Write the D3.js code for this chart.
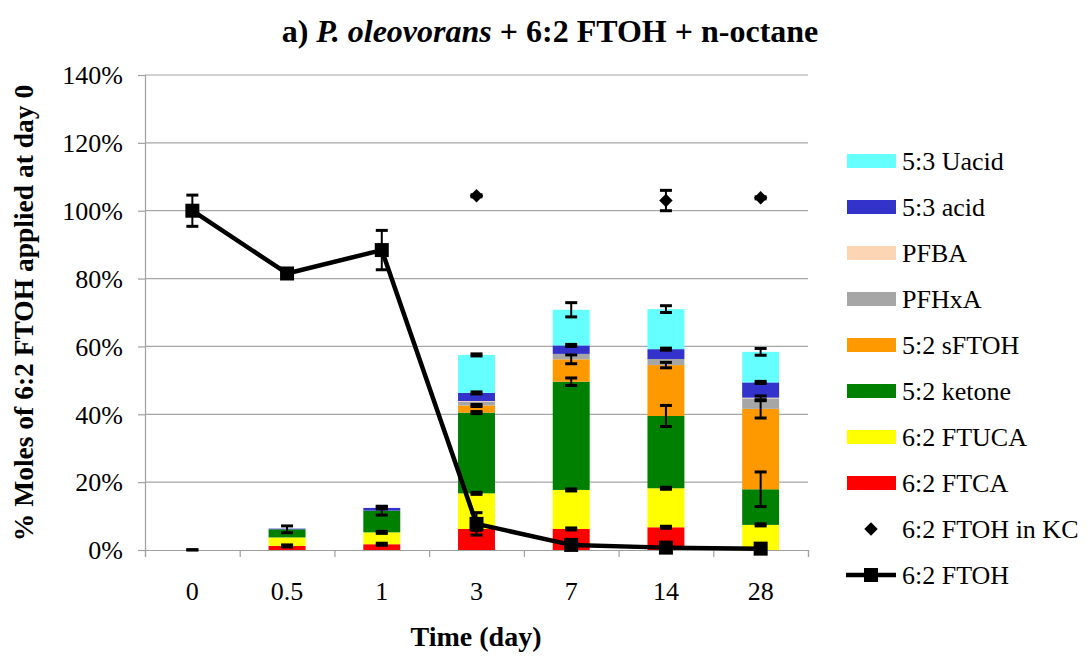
<!DOCTYPE html>
<html>
<head>
<meta charset="utf-8">
<script src="https://cdn.jsdelivr.net/npm/d3@7"></script>
<style>
  @font-face { font-family: "ChartSerif"; font-weight: 400; font-style: normal;
    src: local("Liberation Serif"), local("LiberationSerif"), local("LiberationSerif-Regular"); }
  @font-face { font-family: "ChartSerif"; font-weight: 700; font-style: normal;
    src: local("Liberation Serif Bold"), local("LiberationSerif-Bold"); }
  @font-face { font-family: "ChartSerif"; font-weight: 700; font-style: italic;
    src: local("Liberation Serif Bold Italic"), local("LiberationSerif-BoldItalic"); }
  html, body { margin: 0; padding: 0; background: #fff; }
</style>
</head>
<body>
<svg id="chart" width="1091" height="656"></svg>
<script>
// Sampling days (category axis)
const days = ["0", "0.5", "1", "3", "7", "14", "28"];

// Metabolites, % of 6:2 FTOH applied at day 0 (stacked bottom to top)
const ftca    = [0, 1.2, 1.7, 6.2, 6.2, 6.7, 0];
const ftuca   = [0, 2.5, 3.5, 10.5, 11.5, 11.5, 7.4];
const ketone  = [0, 2.4, 6.4, 23.8, 31.9, 21.3, 10.5];
const sftoh   = [0, 0, 0, 2.1, 6.6, 15.0, 23.7];
const pfhxa   = [0, 0, 0, 1.1, 1.6, 1.8, 3.1];
const pfba    = [0, 0, 0, 0.2, 0, 0, 0.2];
const acid53  = [0, 0.2, 0.8, 2.4, 2.5, 2.9, 4.5];
const uacid53 = [0, 0, 0, 11.2, 10.5, 11.8, 9.0];

// Standard deviations for each metabolite
const ftcaErr    = [0.1, 0.3, 0.3, 0.4, 0.3, 0.3, 0];
const ftucaErr   = [0, 0, 0.3, 0.3, 0.3, 0.3, 0.3];
const ketoneErr  = [0, 1.0, 1.3, 0.3, 1.1, 3.1, 5.1];
const sftohErr   = [0, 0, 0, 0.3, 1.3, 0.8, 2.7];
const pfhxaErr   = [0, 0, 0, 0, 0, 0, 0.7];
const pfbaErr    = [0, 0, 0, 0, 0, 0, 0];
const acid53Err  = [0, 0, 0.3, 0.3, 0.3, 0.3, 0.3];
const uacid53Err = [0, 0, 0, 0.3, 2.1, 1.0, 1.0];

// Parent compound
const ftoh    = [100, 81.5, 88.4, 7.7, 1.5, 0.7, 0.4];
const ftohErr = [4.6, 0.5, 5.8, 3.3, 0.4, 0.3, 0.3];
const ftohKC    = [null, null, null, 104.4, null, 103.0, 103.8];
const ftohKCErr = [0, 0, 0, 0.3, 0, 3.0, 0.3];

const yTicks = [0, 20, 40, 60, 80, 100, 120, 140];

const series = [
  { name: "6:2 FTCA",  color: "#FF0000", values: ftca,    err: ftcaErr },
  { name: "6:2 FTUCA", color: "#FFFF00", values: ftuca,   err: ftucaErr },
  { name: "5:2 ketone", color: "#008000", values: ketone, err: ketoneErr },
  { name: "5:2 sFTOH", color: "#FF9900", values: sftoh,   err: sftohErr },
  { name: "PFHxA",     color: "#A6A6A6", values: pfhxa,   err: pfhxaErr },
  { name: "PFBA",      color: "#FCD5B5", values: pfba,    err: pfbaErr },
  { name: "5:3 acid",  color: "#3333CC", values: acid53,  err: acid53Err },
  { name: "5:3 Uacid", color: "#66FFFF", values: uacid53, err: uacid53Err }
];

const FONT = "'Liberation Serif', ChartSerif, Tinos, 'Times New Roman', serif";
const svg = d3.select("#chart");
const plotLeft = 145, plotRight = 808, plotTop = 75, plotBottom = 550;

const x = d3.scaleBand().domain(days).range([plotLeft, plotRight]).paddingInner(0.61).paddingOuter(0.305);
const xc = d => x(d) + x.bandwidth() / 2;
const y = d3.scaleLinear().domain([0, 140]).range([plotBottom, plotTop]);

// Shared text styling
function serif(sel, size, weight) {
  return sel.attr("font-family", FONT)
    .attr("style", `font-family: ${FONT} !important; font-size: ${size}px; font-weight: ${weight || "normal"};`)
    .attr("fill", "#000");
}

// Title
const title = serif(svg.append("text"), 32, "bold")
  .attr("x", 550).attr("y", 42).attr("text-anchor", "middle");
title.append("tspan").text("a) ");
title.append("tspan").attr("font-style", "italic").style("font-style", "italic").text("P. oleovorans");
title.append("tspan").text(" + 6:2 FTOH + n-octane");

// Horizontal gridlines
svg.append("g").selectAll("line").data(yTicks.filter(t => t > 0)).join("line")
  .attr("x1", plotLeft).attr("x2", plotRight)
  .attr("y1", d => y(d)).attr("y2", d => y(d))
  .attr("stroke", "#A6A6A6").attr("stroke-width", 1.2);

// Y axis
const yAxis = svg.append("g").attr("transform", `translate(${plotLeft},0)`)
  .call(d3.axisLeft(y).tickValues(yTicks).tickSize(7).tickPadding(15).tickFormat(d => d + "%"))
  .attr("font-family", FONT).attr("font-size", 26);
yAxis.selectAll("path, line").attr("stroke", "#A0A0A0").attr("stroke-width", 1.2);
serif(yAxis.selectAll("text"), 26).attr("dy", "0.34em");

// Stacked bars
const stackRows = days.map((d, i) => {
  const row = { day: d };
  series.forEach(s => row[s.name] = s.values[i]);
  return row;
});
const stacked = d3.stack().keys(series.map(s => s.name))(stackRows);

const barG = svg.append("g");
stacked.forEach((layer, k) => {
  barG.append("g").selectAll("rect").data(layer).join("rect")
    .attr("x", d => x(d.data.day))
    .attr("width", x.bandwidth())
    .attr("y", d => y(d[1]))
    .attr("height", d => Math.max(0, y(d[0]) - y(d[1])))
    .attr("fill", series[k].color);
});

// X axis line and category separators
const sep = d3.scaleLinear().domain([0, days.length]).range([plotLeft, plotRight]);
const xAxis = svg.append("g").attr("transform", `translate(0,${plotBottom})`)
  .call(d3.axisBottom(sep).tickValues(d3.range(days.length + 1)).tickSize(7).tickFormat(""));
xAxis.selectAll("path, line").attr("stroke", "#A0A0A0").attr("stroke-width", 1.2);

// Category labels
serif(svg.append("g").selectAll("text").data(days).join("text"), 26)
  .attr("x", d => xc(d)).attr("y", 600).attr("text-anchor", "middle")
  .text(d => d);

// Error bar helper
function errorBar(g, cx, v, e, capW) {
  if (e <= 0) return;
  const y1 = y(v + e), y2 = y(Math.max(0, v - e));
  g.append("line").attr("x1", cx).attr("x2", cx).attr("y1", y1).attr("y2", y2)
    .attr("stroke", "#000").attr("stroke-width", 2);
  [y1, y2].forEach(yy => g.append("line")
    .attr("x1", cx - capW / 2).attr("x2", cx + capW / 2).attr("y1", yy).attr("y2", yy)
    .attr("stroke", "#000").attr("stroke-width", 3));
}

// Error bars on stacked segments (drawn at each segment's cumulative top)
const errG = svg.append("g");
stacked.forEach((layer, k) => {
  layer.forEach((d, i) => errorBar(errG, xc(days[i]), d[1], series[k].err[i], 12));
});

// 6:2 FTOH in killed control
const kcG = svg.append("g");
days.forEach((d, i) => {
  if (ftohKC[i] == null) return;
  errorBar(kcG, xc(d), ftohKC[i], ftohKCErr[i], 12);
  kcG.append("path").attr("d", d3.symbol().type(d3.symbolSquare).size(90)())
    .attr("transform", `translate(${xc(d)},${y(ftohKC[i])}) rotate(45)`).attr("fill", "#000");
});

// 6:2 FTOH line with markers
const lineG = svg.append("g");
lineG.append("path").datum(ftoh)
  .attr("d", d3.line().x((v, i) => xc(days[i])).y(v => y(v)))
  .attr("fill", "none").attr("stroke", "#000").attr("stroke-width", 4.5).attr("stroke-linejoin", "round");
ftoh.forEach((v, i) => errorBar(lineG, xc(days[i]), v, ftohErr[i], 12));
lineG.selectAll("rect").data(ftoh).join("rect")
  .attr("x", (v, i) => xc(days[i]) - 7).attr("y", v => y(v) - 7)
  .attr("width", 14).attr("height", 14).attr("fill", "#000");

// Axis titles
serif(svg.append("text"), 28, "bold")
  .attr("x", 476).attr("y", 646).attr("text-anchor", "middle")
  .text("Time (day)");
serif(svg.append("text"), 27.5, "bold")
  .attr("transform", "translate(33,313) rotate(-90)").attr("text-anchor", "middle")
  .text("% Moles of 6:2 FTOH applied at day 0");

// Legend
const legendItems = series.slice().reverse().map(s => ({ name: s.name, color: s.color, kind: "bar" }))
  .concat([{ name: "6:2 FTOH in KC", kind: "diamond" }, { name: "6:2 FTOH", kind: "line" }]);
const legend = svg.append("g");
legendItems.forEach((item, i) => {
  const cy = 161 + i * 46;
  if (item.kind === "bar") {
    legend.append("rect").attr("x", 847).attr("y", cy - 7).attr("width", 49).attr("height", 14).attr("fill", item.color);
  } else if (item.kind === "diamond") {
    legend.append("path").attr("d", d3.symbol().type(d3.symbolSquare).size(90)())
      .attr("transform", `translate(871,${cy}) rotate(45)`).attr("fill", "#000");
  } else {
    legend.append("line").attr("x1", 846).attr("x2", 896).attr("y1", cy).attr("y2", cy)
      .attr("stroke", "#000").attr("stroke-width", 4.5);
    legend.append("rect").attr("x", 864).attr("y", cy - 7).attr("width", 14).attr("height", 14).attr("fill", "#000");
  }
  serif(legend.append("text"), 26)
    .attr("x", 902).attr("y", cy).attr("dy", "0.34em")
    .text(item.name);
});
</script>
</body>
</html>
